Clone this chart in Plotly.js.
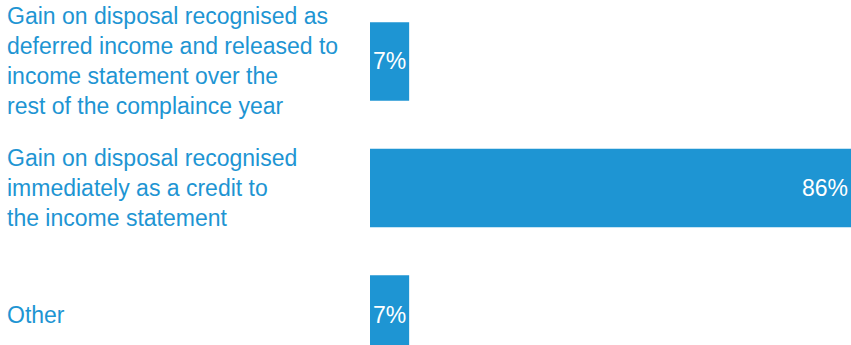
<!DOCTYPE html>
<html>
<head>
<meta charset="utf-8">
<script src="https://cdn.plot.ly/plotly-3.0.1.min.js"></script>
<style>
  html, body { margin: 0; padding: 0; background: #ffffff; }
  #chart { width: 851px; height: 345px; }
</style>
</head>
<body>
<div id="chart"></div>
<script>
const categories = [
  "Gain on disposal recognised as<br>deferred income and released to<br>income statement over the<br>rest of the complaince year",
  "Gain on disposal recognised<br>immediately as a credit to<br>the income statement",
  "Other"
];
const values = [7, 86, 7];
const valueLabels = ["7%", "86%", "7%"];

const BLUE = "#1e95d3";
const FONT = "'Liberation Sans', Arial, Helvetica, sans-serif";
const W = 851, H = 345;
const margin = { l: 370, r: 0, t: 0, b: 0 };
const plotW = W - margin.l - margin.r;

const trace = {
  type: "bar",
  orientation: "h",
  y: categories,
  x: values,
  text: valueLabels,
  textposition: "inside",
  insidetextanchor: "end",
  constraintext: "none",
  textangle: 0,
  textfont: { family: FONT, size: 23, color: "#ffffff" },
  marker: { color: BLUE, line: { width: 0 } },
  hoverinfo: "none",
  showlegend: false
};

const annotations = categories.map(c => ({
  xref: "paper", yref: "y",
  x: (5 - margin.l) / plotW,
  y: c,
  xanchor: "left", yanchor: "middle",
  align: "left",
  text: c,
  showarrow: false,
  font: { family: FONT, size: 23, color: BLUE }
}));

const layout = {
  width: W, height: H,
  margin: margin,
  paper_bgcolor: "#ffffff",
  plot_bgcolor: "#ffffff",
  bargap: 0.38,
  xaxis: { range: [0, 86], visible: false, fixedrange: true },
  yaxis: { type: "category", range: [2.24, -0.485], visible: false, fixedrange: true },
  annotations: annotations,
  font: { family: FONT }
};

Plotly.newPlot("chart", [trace], layout, { displayModeBar: false, staticPlot: true });
</script>
</body>
</html>
